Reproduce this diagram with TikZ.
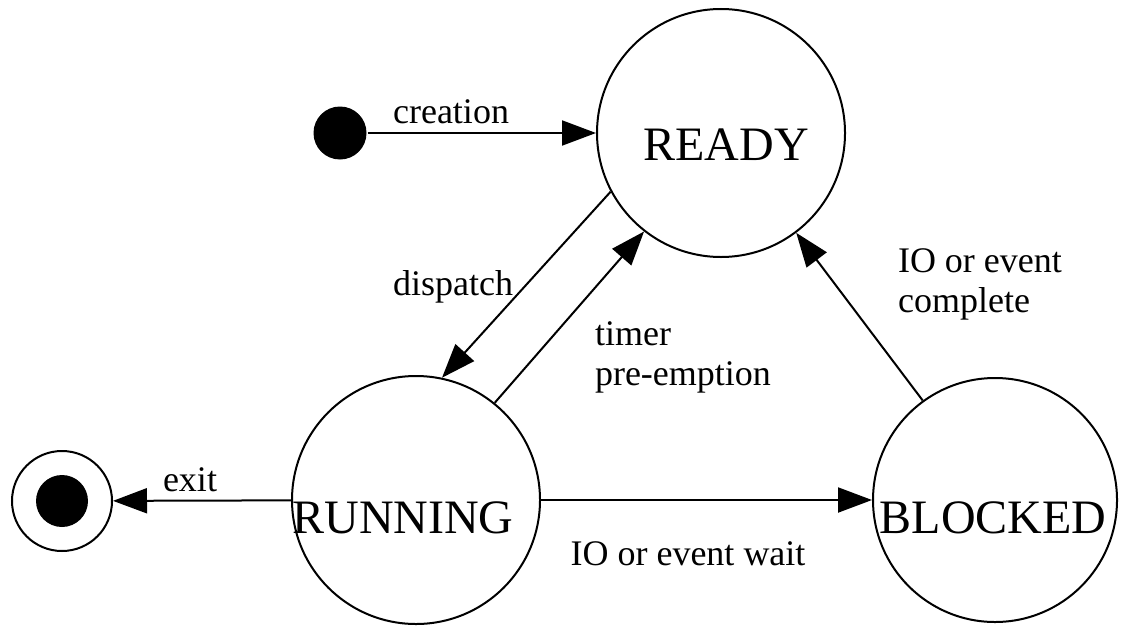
\documentclass[tikz,border=0pt]{standalone}
\usepackage{fontspec}
\setmainfont{Liberation Serif}
\usetikzlibrary{arrows.meta, positioning}
\definecolor{InkBlack}{RGB}{0, 0, 0}

\begin{document}
\begin{tikzpicture}[x=0.5pt, y=-0.5pt, line width=1pt,
    state/.style={draw=InkBlack, circle, minimum size=124pt, inner sep=0pt},
    statename/.style={anchor=base, inner sep=0pt, font=\fontsize{24}{28}\selectfont},
    edgename/.style={inner sep=0pt, font=\fontsize{18}{20}\selectfont},
    dot/.style={circle, fill=InkBlack, inner sep=0pt},
    trans/.style={draw=InkBlack, -{Triangle[length=17pt, width=12.5pt]}}]
    \useasboundingbox (0,0) rectangle (1127,626);
    % states
    \node[state] (ready) at (721,133) {};
    \node[state] (running) at (416,500) {};
    \node[state, minimum size=122pt] (blocked) at (995,500) {};
    \node[statename] (readyName) at (726,160) {READY};
    \node[statename] (runningName) at (403,533) {RUNNING};
    \node[statename] (blockedName) at (993,533) {BLOCKED};
    % initial and final
    \node[dot, minimum size=26.5pt] (start) at (340,133) {};
    \node[circle, draw=InkBlack, minimum size=50pt, inner sep=0pt] (final) at (62,501) {};
    \node[dot, minimum size=26pt] (finalDot) at (62,501) {};
    % transitions
    \draw[trans] (start) -- (ready);
    \draw[trans] (ready.208) -- (running.78);
    \draw[trans] (running.51) -- (ready.232);
    \draw[trans] (blocked.126) -- (ready.307);
    \draw[trans] (running) -- (blocked);
    \draw[trans] (running) -- (final);
    % labels
    \node[edgename, anchor=base] (creationLbl) at (451,123) {creation};
    \node[edgename, anchor=base] (exitLbl) at (190,491) {exit};
    \node[edgename, anchor=base] (dispatchLbl) at (453,295) {dispatch};
    \node[edgename, anchor=base west, align=left] (timerLbl) at (594,385) {timer\\pre-emption};
    \node[edgename, anchor=base west, align=left] (completeLbl) at (897,312) {IO or event\\complete};
    \node[edgename, anchor=base] (waitLbl) at (688,565) {IO or event wait};
\end{tikzpicture}
\end{document}
